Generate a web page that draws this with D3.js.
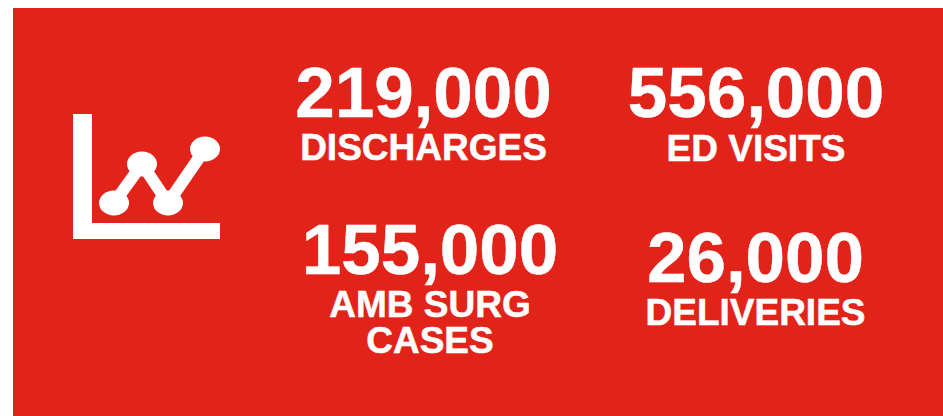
<!DOCTYPE html>
<html>
<head>
<meta charset="utf-8">
<style>
  html, body { margin: 0; padding: 0; background: #fff; overflow: hidden; }
  svg { display: block; }
  text { font-family: "Liberation Sans", Arial, sans-serif; font-weight: bold; fill: #fff; stroke: #fff; stroke-width: 0.5; text-anchor: middle; }
</style>
</head>
<body>
<script src="https://d3js.org/d3.v7.min.js"></script>
<script>
  var numbers = ["219,000", "556,000", "155,000", "26,000"];
  var labels = [["DISCHARGES"], ["ED VISITS"], ["AMB SURG", "CASES"], ["DELIVERIES"]];

  // icon line, in units of the small axes
  var iconX = [41, 69, 95, 132];
  var iconY = [36, 75, 36, 90];

  var width = 943, height = 416;
  var red = "#e2231a";

  var svg = d3.select("body").append("svg")
    .attr("width", width)
    .attr("height", height);

  // the icon in the original is a scaled up bitmap, so soften it a little
  var defs = svg.append("defs");
  defs.append("filter").attr("id", "soft")
    .attr("x", "-10%").attr("y", "-10%").attr("width", "120%").attr("height", "120%")
    .append("feGaussianBlur").attr("stdDeviation", 0.7);

  svg.append("rect")
    .attr("x", 13).attr("y", 8)
    .attr("width", width - 13).attr("height", height - 8)
    .attr("fill", red);

  // icon
  var xScale = d3.scaleLinear().domain([0, 147]).range([73, 220]);
  var yScale = d3.scaleLinear().domain([0, 125]).range([239, 114]);
  var icon = svg.append("g");

  defs.append("clipPath").attr("id", "iconClip")
    .append("rect")
      .attr("x", xScale(0)).attr("y", yScale(125))
      .attr("width", xScale(147) - xScale(0)).attr("height", yScale(0) - yScale(125));

  icon.append("rect")
    .attr("x", xScale(0)).attr("y", yScale(125))
    .attr("width", xScale(19) - xScale(0)).attr("height", yScale(0) - yScale(125))
    .attr("fill", "#fff");
  icon.append("rect")
    .attr("x", xScale(0)).attr("y", yScale(16))
    .attr("width", xScale(147) - xScale(0)).attr("height", yScale(0) - yScale(16))
    .attr("fill", "#fff");

  var line = d3.line()
    .x(function(d, i) { return xScale(iconX[i]); })
    .y(function(d) { return yScale(d); });

  var mark = icon.append("g")
    .attr("clip-path", "url(#iconClip)")
    .append("g")
    .attr("filter", "url(#soft)");

  mark.append("path")
    .attr("d", line(iconY))
    .attr("fill", "none")
    .attr("stroke", "#fff")
    .attr("stroke-width", 12);

  mark.selectAll("ellipse")
    .data(iconY)
    .enter()
    .append("ellipse")
      .attr("cx", function(d, i) { return xScale(iconX[i]); })
      .attr("cy", function(d) { return yScale(d); })
      .attr("rx", 15)
      .attr("ry", 12.5)
      .attr("fill", "#fff");

  // stats
  var numberX = [423.5, 756, 430, 755.5];
  var numberY = [117, 117, 274, 282];
  var labelY = [[160], [161], [317, 353], [325]];

  numbers.forEach(function(n, i) {
    svg.append("text")
      .attr("x", numberX[i]).attr("y", numberY[i])
      .attr("font-size", 71)
      .text(n);
    labels[i].forEach(function(l, j) {
      svg.append("text")
        .attr("x", numberX[i]).attr("y", labelY[i][j])
        .attr("font-size", 37)
        .text(l);
    });
  });
</script>
</body>
</html>
